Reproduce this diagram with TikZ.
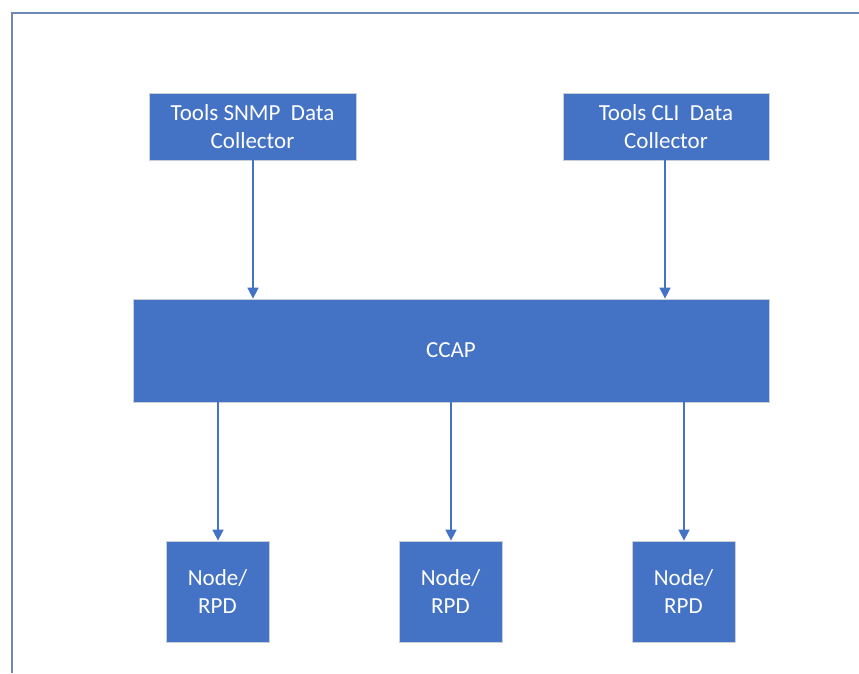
\documentclass[tikz,border=0pt]{standalone}
\usepackage{fontspec}
\setmainfont{Carlito}
\usetikzlibrary{arrows.meta}
\definecolor{boxblue}{HTML}{4472C4}
\definecolor{boxedge}{HTML}{C9CFD9}
\definecolor{framecol}{HTML}{6F89B7}
\tikzset{
  blockbox/.style={draw=boxedge, line width=0.8pt, fill=boxblue, text=white,
    inner sep=0pt, font=\fontsize{23}{28}\selectfont, align=center},
  flow/.style={draw=boxblue, line width=1.6pt, -{Triangle[width=11pt,length=11pt]}}
}
\begin{document}
\begin{tikzpicture}[x=1pt, y=-1pt]
  \useasboundingbox (0,0) rectangle (859,673);
  % outer frame (only top and left edges fall inside the page)
  \draw[framecol, line width=1.6pt] (12,673) -- (12,13) -- (859,13);

  % collectors
  \node[blockbox, minimum width=207pt, minimum height=67pt] (snmp) at (252.5,126.5)
    {Tools SNMP\ \ Data\\Collector};
  \node[blockbox, minimum width=206pt, minimum height=67pt] (cli) at (666,126.5)
    {Tools CLI\ \ Data\\Collector};

  % CCAP
  \node[blockbox, minimum width=636pt, minimum height=103pt] (ccap) at (451,350.5) {CCAP};

  % nodes / RPDs
  \node[blockbox, minimum width=103pt, minimum height=101pt] (n1) at (217.5,591.5) {Node/\\RPD};
  \node[blockbox, minimum width=103pt, minimum height=101pt] (n2) at (450.5,591.5) {Node/\\RPD};
  \node[blockbox, minimum width=103pt, minimum height=101pt] (n3) at (683.5,591.5) {Node/\\RPD};

  % connectors
  \draw[flow] (snmp.south -| 253,0) -- (ccap.north -| 253,0);
  \draw[flow] (cli.south -| 665,0) -- (ccap.north -| 665,0);
  \draw[flow] (ccap.south -| 218,0) -- (n1.north -| 218,0);
  \draw[flow] (ccap.south -| 451,0) -- (n2.north -| 451,0);
  \draw[flow] (ccap.south -| 684,0) -- (n3.north -| 684,0);
\end{tikzpicture}
\end{document}
